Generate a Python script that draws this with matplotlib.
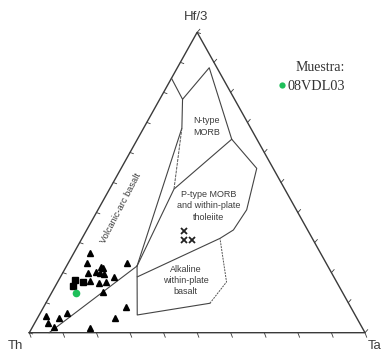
import numpy as np
import matplotlib
matplotlib.use("Agg")
import matplotlib.pyplot as plt

# compositions in percent: (Th, Hf/3, Ta)
tri_th = [68.6, 71.1, 59.3, 72.5, 70.1, 67.6, 67.3, 68.9, 67.9, 73.3, 70.9,
          68.7, 65.4, 71.3, 66.7, 72.1, 81.1, 85.5, 88.7, 92.2, 92.7, 91.7]
tri_hf = [26.6, 23.3, 23.1, 19.9, 20.3, 22.0, 21.4, 20.0, 19.7, 17.2, 16.6,
          16.9, 18.7, 13.4, 8.7, 4.8, 1.5, 6.7, 4.8, 5.6, 3.3, 1.8]
tri_ta = [4.8, 5.6, 17.6, 7.6, 9.6, 10.4, 11.3, 11.1, 12.4, 9.5, 12.4,
          14.4, 15.9, 15.3, 24.6, 23.1, 17.4, 7.8, 6.5, 2.2, 4.0, 6.5]

sq_th = [77.8, 79.2, 75.4]
sq_hf = [17.4, 15.6, 17.0]
sq_ta = [4.8, 5.2, 7.6]

x_th = [36.9, 38.6, 36.1]
x_hf = [33.8, 30.9, 30.9]
x_ta = [29.3, 30.5, 33.0]

sample_name = "08VDL03"
sample_th = [79.4]
sample_hf = [13.3]
sample_ta = [7.3]

# field boundaries (Th, Hf/3, Ta)
bound_outer = [(15.3, 84.7, 0.0), (15.5, 77.7, 6.8), (2.3, 88.2, 9.5),
               (7.5, 64.4, 28.1), (4.9, 54.7, 40.4), (14.8, 40.9, 44.3),
               (22.1, 34.2, 43.7), (27.5, 31.4, 41.1), (58.5, 18.6, 22.9)]
bound_arc = [(15.5, 77.7, 6.8), (20.5, 68.1, 11.4), (56.8, 22.2, 21.0),
             (94.1, 0.0, 5.9)]
bound_morb = [(7.5, 64.4, 28.1), (33.0, 47.8, 19.2), (56.8, 22.2, 21.0)]
bound_gap = [(20.5, 68.1, 11.4), (33.0, 47.8, 19.2)]
bound_alk_solid = [(56.8, 22.2, 21.0), (64.9, 5.9, 29.2), (41.3, 9.8, 48.9)]
bound_alk_dash = [(41.3, 9.8, 48.9), (32.8, 16.9, 50.3), (27.5, 31.4, 41.1)]

fields = {
    "N-type\nMORB": (206.7, 126.5),
    "P-type MORB\nand within-plate\ntholeiite": (209.0, 206.0),
    "Alkaline\nwithin-plate\nbasalt": (185.5, 280.5),
}


def to_xy(th, hf, ta):
    th, hf, ta = np.asarray(th, float), np.asarray(hf, float), np.asarray(ta, float)
    s = th + hf + ta
    hf, ta = hf / s, ta / s
    return ta + hf / 2, hf


def path_xy(pts):
    th, hf, ta = zip(*pts)
    return to_xy(th, hf, ta)


W, H = 383, 354
fig = plt.figure(figsize=(W / 100, H / 100), dpi=100)
ax = fig.add_axes([0, 0, 1, 1])
ax.set_xlim(-29.3 / 335.7, (W - 29.3) / 335.7)
ax.set_ylim(-(H - 332.7) / 300.4, 332.7 / 300.4)
ax.axis("off")

edge = "#3a3a3a"
# triangle frame
fx, fy = to_xy([100, 0, 0, 100], [0, 100, 0, 0], [0, 0, 100, 0])
ax.plot(fx, fy, color=edge, lw=1.0, solid_joinstyle="miter")

# ticks every 10 %
k = np.arange(0, 11) / 10
for v in k:
    # base
    bx, by = to_xy(1 - v, 0, v)
    ax.plot([bx, bx + 0.005], [by, by - 0.015], color=edge, lw=0.6)
    # left edge
    lx, ly = to_xy(1 - v, v, 0)
    ax.plot([lx, lx + 0.010], [ly, ly - 0.004], color=edge, lw=0.6)
    # right edge
    rx, ry = to_xy(0, v, 1 - v)
    ax.plot([rx, rx + 0.008], [ry, ry + 0.010], color=edge, lw=0.6)

line_kw = dict(color="#444444", lw=0.8)
for pts in (bound_outer, bound_arc, bound_morb, bound_alk_solid):
    ax.plot(*path_xy(pts), **line_kw)
ax.plot(*path_xy(bound_gap), color="#555555", lw=0.7, ls=(0, (3, 1)))
ax.plot(*path_xy(bound_alk_dash), color="#555555", lw=0.7, ls=(0, (2, 1)))

# samples
ax.plot(*to_xy(tri_th, tri_hf, tri_ta), ls="none", marker="^", ms=5,
        color="black")
ax.plot(*to_xy(sq_th, sq_hf, sq_ta), ls="none", marker="s", ms=4.5,
        color="black")
ax.plot(*to_xy(x_th, x_hf, x_ta), ls="none", marker="x", ms=4.5, mew=1.3,
        color="#222222")
ax.plot(*to_xy(sample_th, sample_hf, sample_ta), ls="none", marker="o",
        ms=5.5, color="#1fbf5a", mec="none")

sans = ["Liberation Sans", "DejaVu Sans"]
txt = "#3c3c3c"
for label, (px, py) in fields.items():
    ax.text(px / W, 1 - py / H, label, transform=ax.transAxes, ha="center",
            va="center", fontsize=6.5, color=txt, family=sans,
            linespacing=1.3)

ax.text(121.0 / W, 1 - 208 / H, "Volcanic-arc basalt", transform=ax.transAxes,
        ha="center", va="center", rotation=62.5, fontsize=6.7, color=txt,
        family=sans)

ax.text(196.5 / W, 1 - 16.5 / H, "Hf/3", transform=ax.transAxes,
        ha="center", va="center", fontsize=9.5, color=txt, family=sans)
ax.text(15 / W, 1 - 346 / H, "Th", transform=ax.transAxes,
        ha="center", va="center", fontsize=9.5, color=txt, family=sans)
ax.text(368 / W, 1 - 346 / H, "Ta", transform=ax.transAxes,
        ha="left", va="center", fontsize=9.5, color=txt, family=sans)

# legend
serif = ["Liberation Serif", "DejaVu Serif"]
ax.text(345 / W, 1 - 67.5 / H, "Muestra:", transform=ax.transAxes,
        ha="right", va="center", fontsize=10, color="#333333", family=serif)
ax.text(345 / W, 1 - 86 / H, sample_name, transform=ax.transAxes,
        ha="right", va="center", fontsize=10.3, color="#333333", family=serif)
ax.plot([281.5 / W], [1 - 85 / H], transform=ax.transAxes, marker="o",
        ms=4.5, color="#1fbf5a", mec="none")

fig.savefig("out.png", dpi=100)
